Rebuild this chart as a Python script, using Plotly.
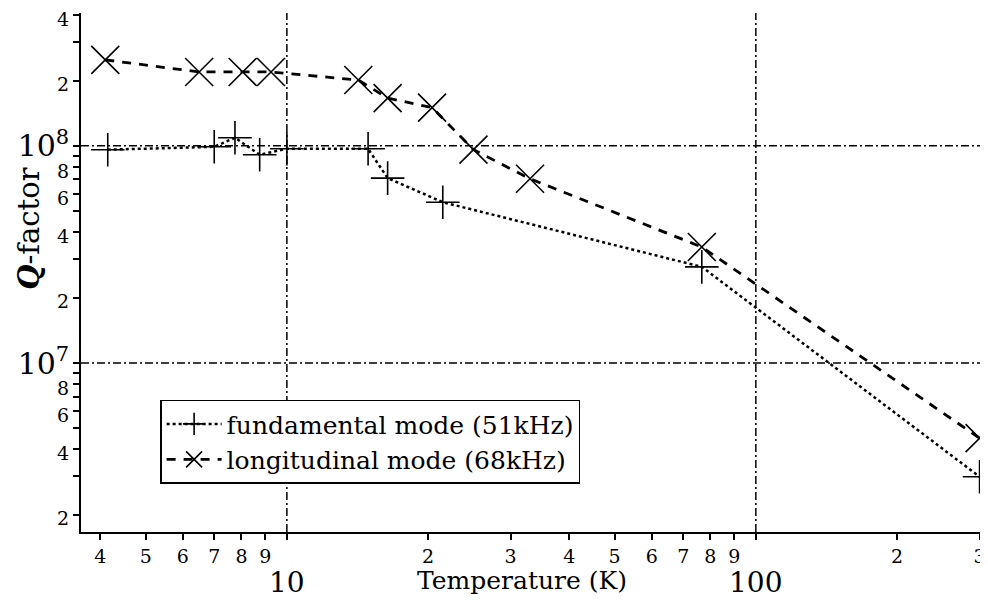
import math
import plotly.graph_objects as go

# fundamental mode (51 kHz)
temp_fund = [4.15, 7.0, 7.75, 8.75, 10.0, 14.9, 16.4, 21.5, 76.7, 300]
q_fund = [0.96e8, 0.99e8, 1.09e8, 0.91e8, 0.97e8, 0.97e8, 0.71e8, 0.55e8, 2.77e7, 2.99e6]

# longitudinal mode (68 kHz)
temp_long = [4.1, 6.5, 8.05, 9.25, 14.2, 16.4, 20.4, 25.0, 33.0, 76.7, 300]
q_long = [2.49e8, 2.19e8, 2.19e8, 2.19e8, 2.01e8, 1.66e8, 1.50e8, 0.96e8, 0.705e8, 3.42e7, 4.5e6]

# ticks
x_tickvals = [4, 5, 6, 7, 8, 9, 10, 20, 30, 40, 50, 60, 70, 80, 90, 100, 200, 300]
x_ticktext = ["4", "5", "6", "7", "8", "9", "",
              "2", "3", "4", "5", "6", "7", "8", "9", "",
              "2", "3"]
x_major = [10, 100]
y_tickvals = [2e6, 3e6, 4e6, 5e6, 6e6, 7e6, 8e6, 9e6, 1e7,
              2e7, 3e7, 4e7, 5e7, 6e7, 7e7, 8e7, 9e7, 1e8, 2e8, 3e8, 4e8]
big7 = "<span style='font-size:30px'>10<sup>7</sup></span>"
big8 = "<span style='font-size:30px'>10<sup>8</sup></span>"
y_ticktext = ["2", "", "4", "", "6", "", "8", "", big7,
              "2", "", "4", "", "6", "", "8", "", big8, "2", "", "4"]

grid_x = [10, 100]
grid_y = [1e7, 1e8]

serif = "DejaVu Serif"

fig = go.Figure()

fig.add_trace(go.Scatter(
    x=temp_fund, y=q_fund, mode="lines+markers",
    name="fundamental mode (51kHz)", cliponaxis=False,
    line=dict(color="black", width=2.5, dash="3px,3px"),
    marker=dict(symbol="cross-thin", size=24, color="black",
                line=dict(width=1.6, color="black")),
))
fig.add_trace(go.Scatter(
    x=temp_long, y=q_long, mode="lines+markers",
    name="longitudinal mode (68kHz)", cliponaxis=False,
    line=dict(color="black", width=2.8, dash="9px,8px"),
    marker=dict(symbol="x-thin", size=28, color="black",
                line=dict(width=1.6, color="black")),
))

# dash-dot reference lines at the decades
for gx in grid_x:
    fig.add_vline(x=gx, line=dict(color="black", width=1.5, dash="8px,3px,2px,3px"), layer="below")
for gy in grid_y:
    fig.add_hline(y=gy, line=dict(color="black", width=1.5, dash="8px,3px,2px,3px"), layer="below")

# big decade labels under the x axis
for v in x_major:
    fig.add_annotation(
        text=str(v), x=math.log10(v), y=-0.097, xref="x", yref="paper",
        xanchor="center", yanchor="middle", showarrow=False,
        font=dict(family=serif, size=28, color="black"),
    )

fig.add_annotation(
    text="<i><b>Q</b></i>-factor", textangle=-90,
    x=-0.058, y=0.584, xref="paper", yref="paper", xanchor="center", yanchor="middle",
    showarrow=False, font=dict(family=serif, size=29, color="black"),
)
fig.add_annotation(
    text="Temperature (K)",
    x=0.49, y=-0.093, xref="paper", yref="paper", xanchor="center", yanchor="middle",
    showarrow=False, font=dict(family=serif, size=25, color="black"),
)

# page body has an 8px margin, so the figure is drawn 8px in from the corner
fig.update_layout(
    width=980, height=596,
    margin=dict(l=73, r=8, t=5, b=72),
    paper_bgcolor="white", plot_bgcolor="white",
    font=dict(family=serif, color="black"),
    showlegend=True,
    legend=dict(
        x=0.088, y=0.255, xanchor="left", yanchor="top",
        bordercolor="black", borderwidth=1.5, bgcolor="white",
        font=dict(family=serif, size=25), tracegroupgap=0, itemwidth=55,
    ),
    xaxis=dict(
        type="log", range=[0.561, 2.478], automargin=False,
        tickmode="array", tickvals=x_tickvals, ticktext=x_ticktext, tickangle=0,
        ticks="outside", ticklen=6, tickwidth=1.5, tickcolor="black",
        tickfont=dict(family=serif, size=19), ticklabeloverflow="allow",
        showgrid=False, zeroline=False,
        showline=True, linecolor="black", linewidth=2,
    ),
    yaxis=dict(
        type="log", range=[6.221, 8.612], automargin=False,
        tickmode="array", tickvals=y_tickvals, ticktext=y_ticktext,
        ticks="outside", ticklen=6, tickwidth=1.5, tickcolor="black",
        tickfont=dict(family=serif, size=19), ticklabeloverflow="allow",
        ticklabelshift=4,
        showgrid=False, zeroline=False,
        showline=True, linecolor="black", linewidth=2,
    ),
)

fig.write_html("out.html")
